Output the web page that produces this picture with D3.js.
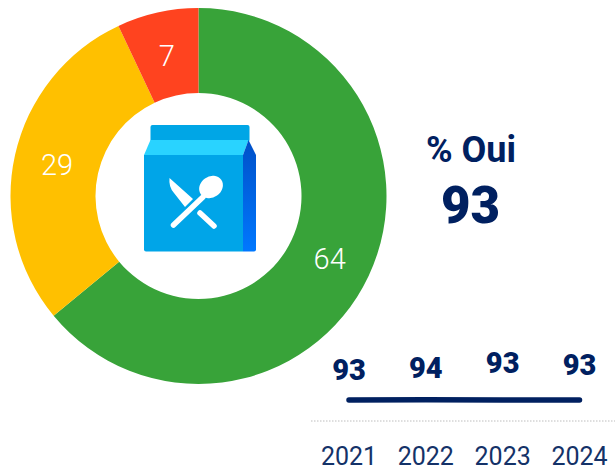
<!DOCTYPE html>
<html><head><meta charset="utf-8">
<script src="https://cdn.jsdelivr.net/npm/d3@7/dist/d3.min.js"></script>
<style>html,body{margin:0;padding:0;background:#fff}svg{display:block}text{font-family:Roboto,sans-serif}</style>
</head><body><svg id="c" width="615" height="471"></svg>
<script>
const shareLabels = ["Oui", "Plutôt", "Non"];
const shareValues = [64, 29, 7];
const shareColors = ["#38a339", "#ffc000", "#ff431f"];
const years = ["2021", "2022", "2023", "2024"];
const trend = [93, 94, 93, 93];
const labelNudge = [1, -1, -6, -4];
const headline = "% Oui";
const headlineValue = 93;
const navy = "#002060";

const svg = d3.select("#c");
const cx = 198.5, cy = 196, R = 188, r = 103;
const pie = d3.pie().sort(null).value(d => d)(shareValues);
const arc = d3.arc().innerRadius(r).outerRadius(R);
const g = svg.append("g").attr("transform", `translate(${cx},${cy})`);
g.selectAll("path").data(pie).join("path").attr("d", arc).attr("fill", (d, i) => shareColors[i]);
const labelArc = d3.arc().innerRadius(145).outerRadius(145);
g.selectAll("text").data(pie).join("text")
  .attr("transform", d => `translate(${labelArc.centroid(d)})`)
  .attr("text-anchor", "middle").attr("dy", "0.38em")
  .attr("fill", "#fff").attr("font-size", 29).attr("font-weight", 300)
  .text(d => d.value);

// icon
const defs = svg.append("defs");
const grad = defs.append("linearGradient").attr("id", "side").attr("x1", 0).attr("x2", 0).attr("y1", 0).attr("y2", 1);
grad.append("stop").attr("offset", 0).attr("stop-color", "#0050c8");
grad.append("stop").attr("offset", 1).attr("stop-color", "#0078ff");
const icon = svg.append("g");
icon.append("rect").attr("x", 150.5).attr("y", 125).attr("width", 99).attr("height", 17).attr("rx", 2).attr("fill", "#00a6e6");
icon.append("path").attr("d", "M150.5 140H248.5L243 155H144Z").attr("fill", "#29d3ff");
icon.append("path").attr("d", "M144 155H243V251.5H146Q144 251.5 144 249.5Z").attr("fill", "#00a5e8");
icon.append("path").attr("d", "M243 155L248.5 140L256 155V249.5Q256 251.5 254 251.5H243Z").attr("fill", "url(#side)");
const white = "#fff";
icon.append("path").attr("d", "M169.5 178Q168.5 187 174 193L185 207L193 199Z").attr("fill", white);
icon.append("line").attr("x1", 200).attr("y1", 213).attr("x2", 214).attr("y2", 226)
  .attr("stroke", white).attr("stroke-width", 5.5).attr("stroke-linecap", "round");
icon.append("line").attr("x1", 173.5).attr("y1", 225).attr("x2", 203).attr("y2", 197)
  .attr("stroke", white).attr("stroke-width", 5.5).attr("stroke-linecap", "round");
icon.append("ellipse").attr("cx", 211).attr("cy", 187).attr("rx", 12.5).attr("ry", 10.5)
  .attr("transform", "rotate(-35 211 187)").attr("fill", white);

// headline
svg.append("text").attr("x", 471).attr("y", 162).attr("text-anchor", "middle")
  .attr("fill", navy).attr("font-size", 36).attr("font-weight", 700).text(headline);
svg.append("text").attr("x", 470.5).attr("y", 223).attr("text-anchor", "middle")
  .attr("fill", navy).attr("font-size", 51).attr("font-weight", 900).text(headlineValue);

// mini trend
const x = d3.scalePoint().domain(years).range([349, 579.5]);
const y = d3.scaleLinear().domain([0, 100]).range([418.6, 398.6]);
const line = d3.line().x((d, i) => x(years[i])).y(d => y(d));
svg.append("path").datum(trend).attr("d", line).attr("fill", "none")
  .attr("stroke", navy).attr("stroke-width", 5.5).attr("stroke-linecap", "round");
svg.selectAll(".v").data(trend).join("text").attr("class", "v")
  .attr("x", (d, i) => x(years[i])).attr("y", (d, i) => y(d) - 21 + labelNudge[i])
  .attr("text-anchor", "middle").attr("fill", navy).attr("font-size", 29).attr("font-weight", 900).text(d => d);
svg.append("line").attr("x1", 311).attr("x2", 615).attr("y1", 421).attr("y2", 421)
  .attr("stroke", "#bdbdbd").attr("stroke-width", 1).attr("stroke-dasharray", "1.5 1.5");
svg.selectAll(".yr").data(years).join("text").attr("class", "yr")
  .attr("x", d => x(d)).attr("y", 465).attr("text-anchor", "middle")
  .attr("fill", "#143268").attr("font-size", 25).attr("font-weight", 400).text(d => d);
</script></body></html>
